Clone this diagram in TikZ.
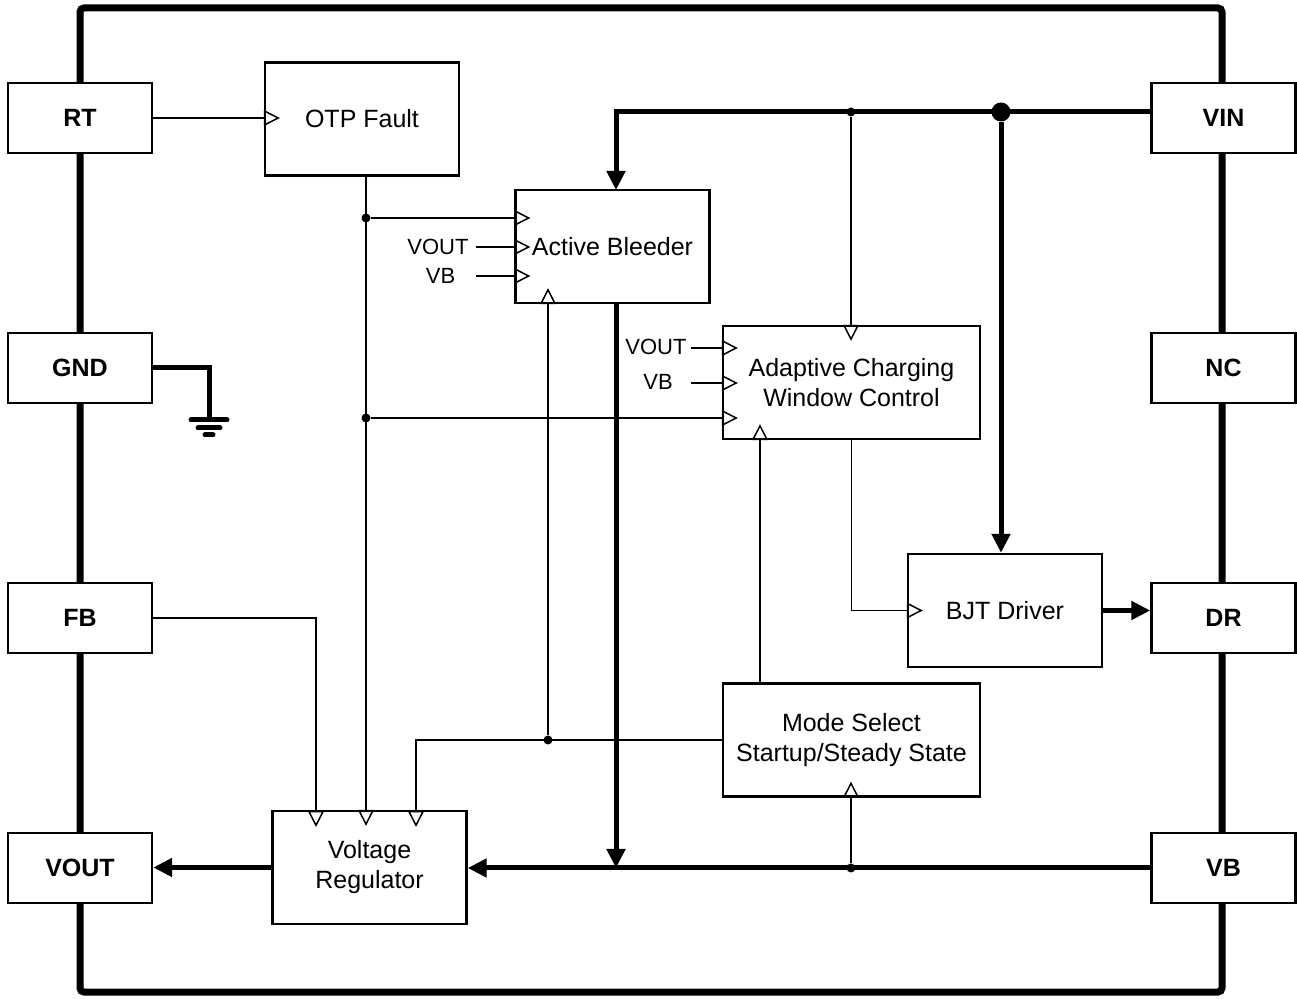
\documentclass[tikz,border=0pt]{standalone}
\usepackage{fontspec}
\setmainfont{Liberation Sans}
\usetikzlibrary{arrows.meta}

\begin{document}
\begin{tikzpicture}[
  x=0.5pt,y=-0.5pt,
  font=\fontsize{12.5}{15}\selectfont,
  block/.style={draw,line width=1.2pt,minimum width=97pt,minimum height=56.5pt,align=center,fill=white,inner sep=0pt},
  wide/.style={block,minimum width=128.5pt},
  pin/.style={draw,line width=1.2pt,minimum width=72pt,minimum height=35pt,fill=white,font=\fontsize{12.5}{15}\selectfont\bfseries},
  lbl/.style={font=\fontsize{11}{13}\selectfont,inner sep=0pt},
  wire/.style={line width=0.75pt},
  sig/.style={wire,-{Triangle[open,length=8pt,width=8pt]},shorten >=-8pt},
  bus/.style={line width=2.5pt},
  power/.style={bus,-{Triangle[length=9.5pt,width=9pt]}},
  dot/.style={circle,fill,inner sep=0pt,minimum size=4.5pt},
  bigdot/.style={circle,fill,inner sep=0pt,minimum size=9.5pt}
]
\useasboundingbox (0,0) rectangle (1297,999);
% package outline
\draw[line width=3.5pt,rounded corners=2pt] (80,8) rectangle (1222,992);

% pins
\node[pin] (rt)   at (80,118) {RT};
\node[pin] (gnd)  at (80,368) {GND};
\node[pin] (fb)   at (80,618) {FB};
\node[pin] (vout) at (80,868) {VOUT};
\node[pin] (vin)  at (1223.5,118) {VIN};
\node[pin] (nc)   at (1223.5,368) {NC};
\node[pin] (dr)   at (1223.5,618) {DR};
\node[pin] (vb)   at (1223.5,868) {VB};

% blocks
\node[block] (otp)     at (362,119) {OTP Fault};
\node[block] (bleeder) at (612.5,246.5) {Active Bleeder};
\node[wide]  (acw)     at (851.5,382.5) {Adaptive Charging\\Window Control};
\node[block] (bjt)     at (1005,610.5) {BJT Driver};
\node[wide]  (mode)    at (851.5,740) {Mode Select\\Startup/Steady State};
\node[block] (vreg)    at (369.5,867.5) {Voltage\\Regulator};

% local inputs
\node[lbl] (abvout)  at (438,247) {VOUT};
\node[lbl] (abvb)    at (440.5,276) {VB};
\node[lbl] (acwvout) at (656,346.5) {VOUT};
\node[lbl] (acwvb)   at (658,382) {VB};
\coordinate (abvoutin) at (476,247);
\coordinate (abvbin)   at (476,276);
\coordinate (acwvoutin) at (691,348);
\coordinate (acwvbin)   at (691,383);

% junctions and taps
\coordinate (otpx)  at (366,0);
\coordinate (selx)  at (548,0);
\coordinate (fbin)  at (316,811);
\coordinate (modein) at (416,811);
\coordinate (abtop) at (616,190);
\coordinate (acwin) at (760,0);
\coordinate (vinbus) at ([yshift=3pt]vin.west);
\coordinate (gndpt) at (209,420);

% thick supply paths
\draw[power] (vinbus) -| (abtop);
\draw[power] (vb.west) -- (vb.west -| vreg.east);
\draw[power] (abtop |- bleeder.south) -- (abtop |- vb.west);
\node[dot]    (tapacw) at (851,112) {};
\node[bigdot] (tapbjt) at (1001,112) {};
\draw[power] (tapbjt) -- (tapbjt |- bjt.north);
\draw[power] (bjt.east) -- (bjt.east -| dr.west);
\draw[power] (vreg.west) -- (vreg.west -| vout.east);

% signals
\draw[sig] (rt.east) -- (rt.east -| otp.west);
\draw[sig] (otp.south -| otpx) -- (otpx |- vreg.north);
\node[dot] (jab)  at (366,218) {};
\node[dot] (jacw) at (366,418) {};
\draw[sig] (jab) -- (jab -| bleeder.west);
\draw[sig] (abvoutin) -- (abvoutin -| bleeder.west);
\draw[sig] (abvbin) -- (abvbin -| bleeder.west);
\draw[sig] (jacw) -- (jacw -| acw.west);
\draw[sig] (acwvoutin) -- (acwvoutin -| acw.west);
\draw[sig] (acwvbin) -- (acwvbin -| acw.west);
\draw[sig] (tapacw) -- (tapacw |- acw.north);
\draw[sig] (fb.east) -| (fbin);
\draw[sig] (mode.west) -| (modein);
\node[dot] (jsel) at (548,740) {};
\draw[sig] (jsel) -- (selx |- bleeder.south);
\draw[sig] (mode.north -| acwin) -- (acwin |- acw.south);
\draw[sig] (acw.south) |- (bjt.west);
\node[dot] (tapmode) at (851,868) {};
\draw[sig] (tapmode) -- (tapmode |- mode.south);

% ground
\draw[bus] (gnd.east) -| (gndpt);
\draw[bus,line cap=round] (191,420) -- (227,420) (198,428) -- (220,428) (205,435) -- (213,435);
\end{tikzpicture}
\end{document}
